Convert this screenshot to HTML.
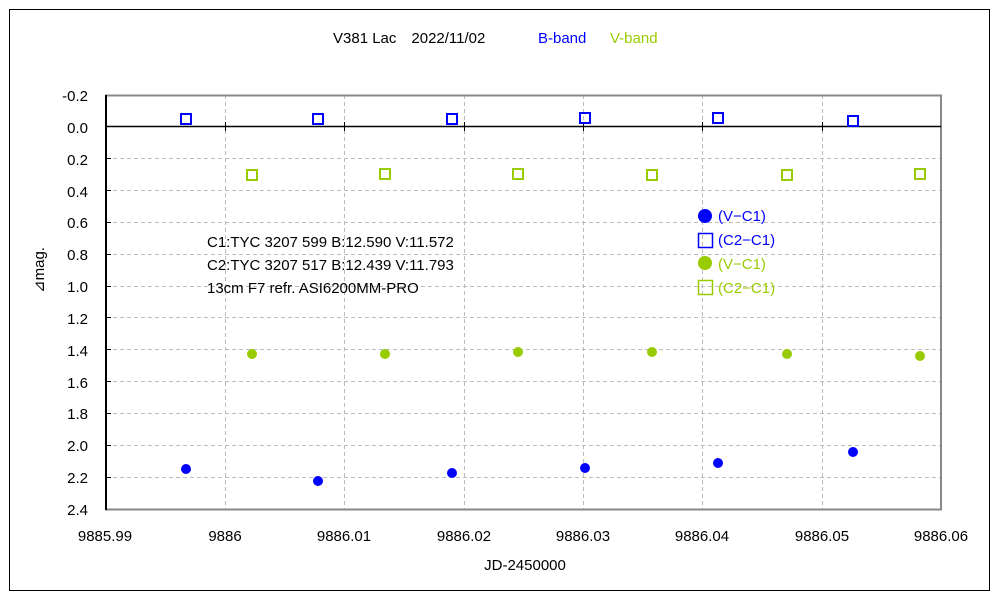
<!DOCTYPE html>
<html><head><meta charset="utf-8"><style>body{margin:0;background:#fff}svg{display:block}text{font-family:"Liberation Sans",sans-serif}</style></head><body>
<svg width="1000" height="600" viewBox="0 0 1000 600">
<rect x="0" y="0" width="1000" height="600" fill="#fff"/>
<rect x="9.5" y="9.5" width="980" height="581" fill="none" stroke="#000" stroke-width="1"/>
<g font-size="15">
<text x="333" y="43" fill="#000">V381 Lac　2022/11/02</text>
<text x="538" y="43" fill="#0000ff">B-band</text>
<text x="610" y="43" fill="#99cc00">V-band</text>
</g>
<g stroke="#bbb" stroke-dasharray="4,3" stroke-width="1">
<line x1="225.5" y1="95" x2="225.5" y2="509"/><line x1="344.5" y1="95" x2="344.5" y2="509"/><line x1="464.5" y1="95" x2="464.5" y2="509"/><line x1="583.5" y1="95" x2="583.5" y2="509"/><line x1="702.5" y1="95" x2="702.5" y2="509"/><line x1="822.5" y1="95" x2="822.5" y2="509"/>
<line x1="106" y1="158.5" x2="941" y2="158.5"/><line x1="106" y1="190.5" x2="941" y2="190.5"/><line x1="106" y1="222.5" x2="941" y2="222.5"/><line x1="106" y1="254.5" x2="941" y2="254.5"/><line x1="106" y1="286.5" x2="941" y2="286.5"/><line x1="106" y1="317.5" x2="941" y2="317.5"/><line x1="106" y1="349.5" x2="941" y2="349.5"/><line x1="106" y1="381.5" x2="941" y2="381.5"/><line x1="106" y1="413.5" x2="941" y2="413.5"/><line x1="106" y1="445.5" x2="941" y2="445.5"/><line x1="106" y1="477.5" x2="941" y2="477.5"/>
</g>
<rect x="106" y="95.5" width="835" height="414" fill="none" stroke="#888" stroke-width="2"/>
<line x1="106" y1="95" x2="106" y2="510" stroke="#000" stroke-width="2"/>
<line x1="106" y1="126.5" x2="941" y2="126.5" stroke="#000" stroke-width="1.5"/>
<g stroke="#000" stroke-width="1">
<line x1="225.5" y1="122" x2="225.5" y2="131"/><line x1="344.5" y1="122" x2="344.5" y2="131"/><line x1="464.5" y1="122" x2="464.5" y2="131"/><line x1="583.5" y1="122" x2="583.5" y2="131"/><line x1="702.5" y1="122" x2="702.5" y2="131"/><line x1="822.5" y1="122" x2="822.5" y2="131"/>
<line x1="106" y1="158.5" x2="111" y2="158.5"/><line x1="106" y1="190.5" x2="111" y2="190.5"/><line x1="106" y1="222.5" x2="111" y2="222.5"/><line x1="106" y1="254.5" x2="111" y2="254.5"/><line x1="106" y1="286.5" x2="111" y2="286.5"/><line x1="106" y1="317.5" x2="111" y2="317.5"/><line x1="106" y1="349.5" x2="111" y2="349.5"/><line x1="106" y1="381.5" x2="111" y2="381.5"/><line x1="106" y1="413.5" x2="111" y2="413.5"/><line x1="106" y1="445.5" x2="111" y2="445.5"/><line x1="106" y1="477.5" x2="111" y2="477.5"/>
</g>
<g font-size="15" fill="#000" text-anchor="end">
<text x="88" y="101">-0.2</text><text x="88" y="133">0.0</text><text x="88" y="165">0.2</text><text x="88" y="197">0.4</text><text x="88" y="228">0.6</text><text x="88" y="260">0.8</text><text x="88" y="292">1.0</text><text x="88" y="324">1.2</text><text x="88" y="356">1.4</text><text x="88" y="388">1.6</text><text x="88" y="419">1.8</text><text x="88" y="451">2.0</text><text x="88" y="483">2.2</text><text x="88" y="515">2.4</text>
</g>
<g font-size="15" fill="#000" text-anchor="middle">
<text x="105" y="541">9885.99</text><text x="225" y="541">9886</text><text x="344" y="541">9886.01</text><text x="464" y="541">9886.02</text><text x="583" y="541">9886.03</text><text x="702" y="541">9886.04</text><text x="822" y="541">9886.05</text><text x="941" y="541">9886.06</text>
<text x="525" y="570">JD-2450000</text>
</g>
<text transform="translate(44,270) rotate(-90)" font-size="15" text-anchor="middle" fill="#000">⊿mag.</text>
<g font-size="15" fill="#000">
<text x="207" y="247">C1:TYC 3207 599 B:12.590 V:11.572</text>
<text x="207" y="270">C2:TYC 3207 517 B:12.439 V:11.793</text>
<text x="207" y="293">13cm F7 refr.  ASI6200MM-PRO</text>
</g>
<g fill="none" stroke="#0000ff" stroke-width="2">
<rect x="181" y="114" width="10" height="10"/><rect x="313" y="114" width="10" height="10"/><rect x="447" y="114" width="10" height="10"/><rect x="580" y="113" width="10" height="10"/><rect x="713" y="113" width="10" height="10"/><rect x="848" y="116" width="10" height="10"/>
</g>
<g fill="none" stroke="#99cc00" stroke-width="2">
<rect x="247" y="170" width="10" height="10"/><rect x="380" y="169" width="10" height="10"/><rect x="513" y="169" width="10" height="10"/><rect x="647" y="170" width="10" height="10"/><rect x="782" y="170" width="10" height="10"/><rect x="915" y="169" width="10" height="10"/>
</g>
<g fill="#99cc00">
<circle cx="252" cy="354" r="5"/><circle cx="385" cy="354" r="5"/><circle cx="518" cy="352" r="5"/><circle cx="652" cy="352" r="5"/><circle cx="787" cy="354" r="5"/><circle cx="920" cy="356" r="5"/>
</g>
<g fill="#0000ff">
<circle cx="186" cy="469" r="5"/><circle cx="318" cy="481" r="5"/><circle cx="452" cy="473" r="5"/><circle cx="585" cy="468" r="5"/><circle cx="718" cy="463" r="5"/><circle cx="853" cy="452" r="5"/>
</g>
<circle cx="705" cy="216" r="7" fill="#0000ff"/>
<rect x="698.5" y="233.5" width="14" height="14" fill="none" stroke="#0000ff" stroke-width="1.5"/>
<circle cx="705" cy="263" r="7" fill="#99cc00"/>
<rect x="698.5" y="280.5" width="14" height="14" fill="none" stroke="#99cc00" stroke-width="1.5"/>
<g font-size="15">
<text x="718" y="221" fill="#0000ff">(V−C1)</text>
<text x="718" y="245" fill="#0000ff">(C2−C1)</text>
<text x="718" y="269" fill="#99cc00">(V−C1)</text>
<text x="718" y="293" fill="#99cc00">(C2−C1)</text>
</g>
</svg>
</body></html>
